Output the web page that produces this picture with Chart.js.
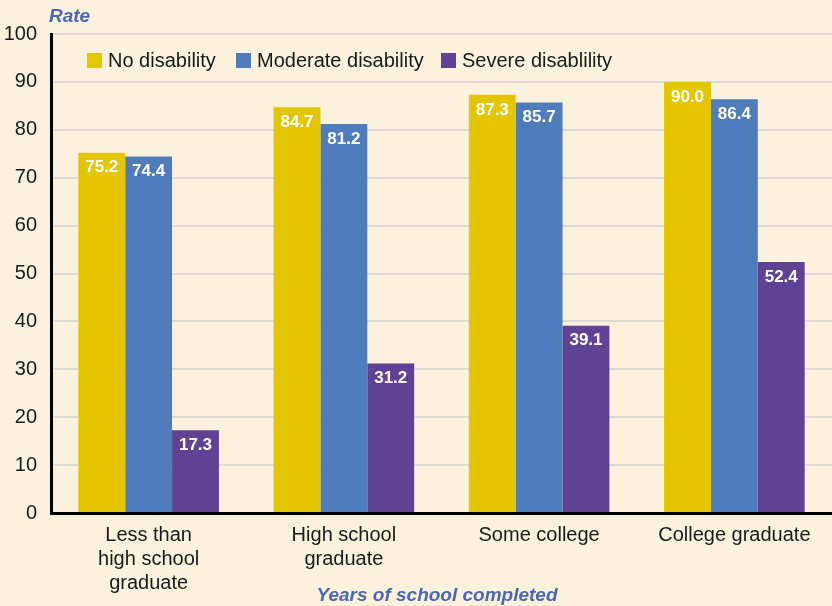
<!DOCTYPE html>
<html>
<head>
<meta charset="utf-8">
<script src="https://cdn.jsdelivr.net/npm/chart.js@4.4.0/dist/chart.umd.min.js"></script>
<style>
  html, body { margin: 0; padding: 0; background: #FBF2DD; }
  #wrap { width: 832px; height: 606px; position: relative; }
</style>
</head>
<body>
<div id="wrap"><canvas id="chart"></canvas></div>
<script>
// Chart data
const categories = [['Less than', 'high school', 'graduate'], ['High school', 'graduate'], 'Some college', 'College graduate'];
const seriesNames = ['No disability', 'Moderate disability', 'Severe disablility'];
const noDisability = [75.2, 84.7, 87.3, 90.0];
const moderateDisability = [74.4, 81.2, 85.7, 86.4];
const severeDisability = [17.3, 31.2, 39.1, 52.4];
const yTicks = [0, 10, 20, 30, 40, 50, 60, 70, 80, 90, 100];

const colors = ['#E3C500', '#4F7DBB', '#5E4294'];
const FONT = "'Liberation Sans Narrow', 'Arial Narrow', 'Liberation Sans', Arial, sans-serif";

// background, titles, legend and value labels
const decor = {
  id: 'decor',
  beforeDraw(chart) {
    const ctx = chart.ctx;
    ctx.save();
    ctx.fillStyle = '#FBF2DD';
    ctx.fillRect(0, 0, chart.width, chart.height);
    ctx.restore();
  },
  afterDatasetsDraw(chart) {
    const ctx = chart.ctx;
    ctx.save();
    // value labels inside bars
    ctx.fillStyle = '#ffffff';
    ctx.font = "bold 17px " + FONT;
    ctx.textAlign = 'center';
    ctx.textBaseline = 'middle';
    chart.data.datasets.forEach((ds, i) => {
      chart.getDatasetMeta(i).data.forEach((bar, j) => {
        ctx.fillText(ds.data[j].toFixed(1), bar.x, bar.y + 15);
      });
    });
    // legend
    const legendX = [87, 236, 441];
    ctx.font = "20px " + FONT;
    ctx.textAlign = 'left';
    chart.data.datasets.forEach((ds, i) => {
      ctx.fillStyle = ds.backgroundColor;
      ctx.fillRect(legendX[i], 53, 15, 15);
      ctx.fillStyle = '#1a1a1a';
      ctx.fillText(ds.label, legendX[i] + 21, 61);
    });
    // axis titles
    ctx.fillStyle = '#4A68B2';
    ctx.font = "italic bold 19px " + FONT;
    ctx.fillText('Rate', 49, 17);
    ctx.textAlign = 'center';
    ctx.fillText('Years of school completed', 437, 596);
    ctx.restore();
  }
};

new Chart(document.getElementById('chart'), {
  type: 'bar',
  data: {
    labels: categories,
    datasets: [
      { label: seriesNames[0], data: noDisability, backgroundColor: colors[0] },
      { label: seriesNames[1], data: moderateDisability, backgroundColor: colors[1] },
      { label: seriesNames[2], data: severeDisability, backgroundColor: colors[2] }
    ]
  },
  options: {
    responsive: true,
    maintainAspectRatio: false,
    animation: false,
    layout: { padding: { top: 34, right: 0, left: 0, bottom: 0 } },
    datasets: { bar: { categoryPercentage: 0.72, barPercentage: 1.0 } },
    plugins: { legend: { display: false }, tooltip: { enabled: false } },
    scales: {
      x: {
        grid: { display: false, drawTicks: false },
        border: { color: '#000', width: 3 },
        ticks: { color: '#1a1a1a', font: { family: FONT, size: 20 }, padding: 10, maxRotation: 0, autoSkip: false },
        afterFit(scale) { scale.height = 93; }
      },
      y: {
        min: 0,
        max: 100,
        afterBuildTicks(scale) { scale.ticks = yTicks.map(v => ({ value: v })); },
        grid: { color: '#DCDAD2', lineWidth: 2, drawTicks: false },
        border: { color: '#000', width: 3 },
        ticks: { color: '#1a1a1a', font: { family: FONT, size: 20 }, padding: 14 },
        afterFit(scale) { scale.width = 51; }
      }
    }
  },
  plugins: [decor]
});
</script>
</body>
</html>
